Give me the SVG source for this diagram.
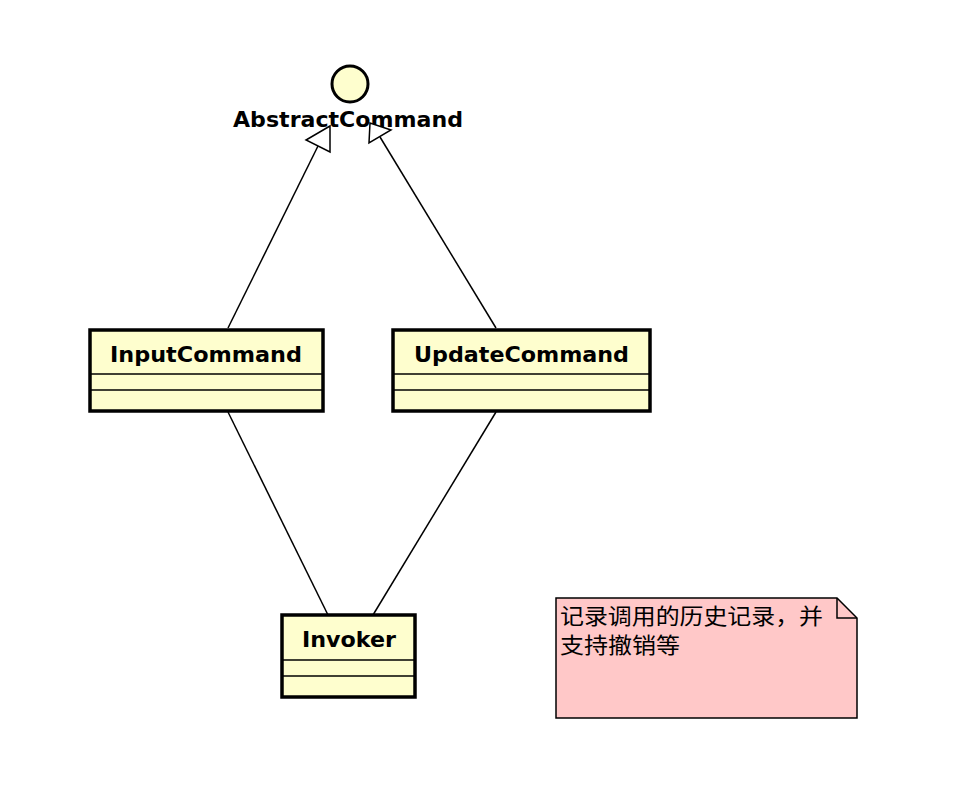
<svg xmlns="http://www.w3.org/2000/svg" width="956" height="798" viewBox="0 0 956 798">
<style>
.cls rect{fill:#fefece;stroke:#000;stroke-width:3.5}
.cls line{stroke:#000;stroke-width:1.5}
.t{font-family:"DejaVu Sans","Liberation Sans",sans-serif;font-weight:bold;font-size:22px;fill:#000;text-anchor:middle}
.edge{stroke:#000;stroke-width:1.5;fill:none}
.head{fill:#fff;stroke:#000;stroke-width:1.5}
.note{font-family:"Noto Sans CJK SC","Liberation Sans",sans-serif;font-size:22px;fill:#000}
</style>
<rect width="956" height="798" fill="#fff"/>
<g id="AbstractCommand">
<circle cx="350" cy="84" r="18" fill="#fefece" stroke="#000" stroke-width="3"/>
<text class="t" x="348" y="127" style="font-size:21px" textLength="230" lengthAdjust="spacingAndGlyphs">AbstractCommand</text>
</g>
<g id="connectors">
<line class="edge" x1="228" y1="328" x2="318" y2="146"/>
<polygon class="head" points="330,126 306,140 330,152"/>
<line class="edge" x1="496" y1="328" x2="380" y2="137"/>
<polygon class="head" points="370,123 369,143 391,130"/>
<line class="edge" x1="228" y1="412" x2="328" y2="615"/>
<line class="edge" x1="496" y1="412" x2="373" y2="615"/>
</g>
<g id="InputCommand" class="cls">
<rect x="90" y="330" width="233" height="81"/>
<line x1="90" y1="374" x2="323" y2="374"/>
<line x1="90" y1="390" x2="323" y2="390"/>
<text class="t" x="206" y="362" textLength="192" lengthAdjust="spacingAndGlyphs">InputCommand</text>
</g>
<g id="UpdateCommand" class="cls">
<rect x="393" y="330" width="257" height="81"/>
<line x1="393" y1="374" x2="650" y2="374"/>
<line x1="393" y1="390" x2="650" y2="390"/>
<text class="t" x="521.5" y="362" textLength="215" lengthAdjust="spacingAndGlyphs">UpdateCommand</text>
</g>
<g id="Invoker" class="cls">
<rect x="282" y="615" width="133" height="82"/>
<line x1="282" y1="660" x2="415" y2="660"/>
<line x1="282" y1="676" x2="415" y2="676"/>
<text class="t" x="349" y="647" textLength="94" lengthAdjust="spacingAndGlyphs">Invoker</text>
</g>
<g id="note">
<path d="M556,598 L837,598 L857,618 L857,718 L556,718 Z" fill="#ffc8c8" stroke="#000" stroke-width="1.5"/>
<path d="M837,598 L837,618 L857,618" fill="none" stroke="#000" stroke-width="1.5"/>
<text class="note" x="560" y="624" textLength="263" lengthAdjust="spacingAndGlyphs">记录调用的历史记录，并</text>
<text class="note" x="560" y="653" textLength="120" lengthAdjust="spacingAndGlyphs">支持撤销等</text>
</g>
</svg>
